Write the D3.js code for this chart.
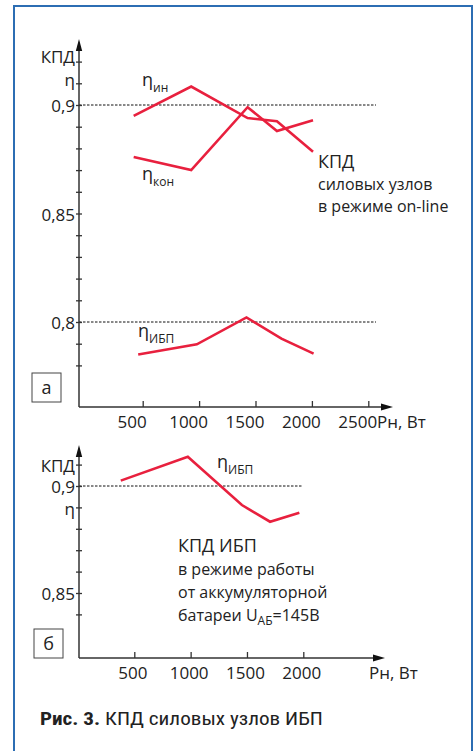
<!DOCTYPE html>
<html>
<head>
<meta charset="utf-8">
<script src="https://cdn.jsdelivr.net/npm/d3@7"></script>
<style>
  html, body { margin: 0; padding: 0; background: #fff; }
  svg { display: block; }
  text { font-family: "Open Sans", "Noto Sans", sans-serif; fill: #222; }
  .caption { font-family: "Liberation Sans Narrow", "Roboto Condensed", Roboto, sans-serif; }
</style>
</head>
<body>
<svg id="chart" width="475" height="751"></svg>
<script>
// power axis ticks, W
const powerTicksOnline = [500, 1000, 1500, 2000, 2500]
const powerTicksBattery = [500, 1000, 1500, 2000]

// efficiency ticks (every 0.01)
const etaTicksOnline = [0.78, 0.79, 0.80, 0.81, 0.82, 0.83, 0.84, 0.85, 0.86, 0.87, 0.88, 0.89, 0.90, 0.91, 0.92]
const etaTicksBattery = [0.84, 0.85, 0.86, 0.87, 0.88, 0.89, 0.90, 0.91]

// (а) on-line mode
const powerOnline = [420, 930, 1430, 1690, 2010]
const etaInverter = [0.895, 0.9085, 0.894, 0.8925, 0.8785]
const etaConverter = [0.876, 0.870, 0.899, 0.888, 0.893]
const powerUpsOnline = [460, 980, 1420, 1730, 2015]
const etaUpsOnline = [0.785, 0.7897, 0.8021, 0.7923, 0.7854]

// (б) battery mode
const powerBattery = [380, 975, 1455, 1705, 1965]
const etaUpsBattery = [0.9025, 0.9137, 0.8911, 0.8833, 0.8875]

const RED = "#e8203e"
const AXIS = "#333"

const svg = d3.select("#chart")

// blue frame
svg.append("rect")
	.attr("x", 14).attr("y", 6)
	.attr("width", 458).attr("height", 760)
	.attr("fill", "none")
	.attr("stroke", "#2c6db3")
	.attr("stroke-width", 2)

function yLabel(map) {
	return d => map[d.toFixed(2)] || ""
}

function drawPanel(cfg) {
	const g = svg.append("g")
	const x = cfg.x, y = cfg.y

	// reference dashed lines
	cfg.refLines.forEach(v => {
		g.append("line")
			.attr("x1", cfg.axisX).attr("x2", cfg.refEnd)
			.attr("y1", y(v)).attr("y2", y(v))
			.attr("stroke", "#111")
			.attr("stroke-width", 1)
			.attr("stroke-dasharray", "2.5,1.5")
	})

	// y axis
	const yAxis = d3.axisLeft(y)
		.tickValues(cfg.yTicks)
		.tickSize(3)
		.tickPadding(1)
		.tickFormat(yLabel(cfg.yLabels))
	const ya = g.append("g")
		.attr("transform", "translate(" + cfg.axisX + ",0)")
		.call(yAxis)
	ya.select(".domain").remove()
	ya.selectAll(".tick line").attr("x1", -3).attr("x2", 3).attr("stroke", AXIS).attr("stroke-width", 1.3)
	ya.selectAll(".tick text")
		.attr("font-family", null).attr("font-size", null)
		.style("font-size", "17px")
		.attr("dy", d => (cfg.yDy[d.toFixed(2)] || 0.4) + "em")

	// x axis
	const xAxis = d3.axisBottom(x)
		.tickValues(cfg.xTicks)
		.tickSize(-6)
		.tickFormat(d3.format("d"))
	const xa = g.append("g")
		.attr("transform", "translate(0," + cfg.axisY + ")")
		.call(xAxis)
	xa.select(".domain").remove()
	xa.selectAll(".tick line").attr("stroke", AXIS).attr("stroke-width", 1.3)
	xa.selectAll(".tick text")
		.attr("font-family", null).attr("font-size", null)
		.style("font-size", "17px")
		.attr("y", 21).attr("dy", 0)
		.attr("dx", cfg.xLabelDx)

	// axis lines with arrows
	g.append("line")
		.attr("x1", cfg.axisX).attr("x2", cfg.axisX)
		.attr("y1", cfg.axisY).attr("y2", cfg.yTip + 8)
		.attr("stroke", AXIS).attr("stroke-width", 1.5)
	g.append("path")
		.attr("d", "M" + cfg.axisX + "," + cfg.yTip + "L" + (cfg.axisX - 3.2) + "," + (cfg.yTip + 12) + "L" + (cfg.axisX + 3.2) + "," + (cfg.yTip + 12) + "Z")
		.attr("fill", "#111")
	g.append("line")
		.attr("x1", cfg.axisX).attr("x2", cfg.xTip - 8)
		.attr("y1", cfg.axisY).attr("y2", cfg.axisY)
		.attr("stroke", AXIS).attr("stroke-width", 1.5)
	g.append("path")
		.attr("d", "M" + cfg.xTip + "," + cfg.axisY + "L" + (cfg.xTip - 12) + "," + (cfg.axisY - 3.5) + "L" + (cfg.xTip - 12) + "," + (cfg.axisY + 3.5) + "Z")
		.attr("fill", "#111")

	g.append("text")
		.attr("x", cfg.xTip - 16).attr("y", cfg.axisY + 21)
		.style("font-size", "17px")
		.text("Рн, Вт")

	// series
	const line = d3.line().x(d => x(d[0])).y(d => y(d[1]))
	cfg.series.forEach(s => {
		g.append("path")
			.datum(d3.zip(s.power, s.eta))
			.attr("d", line)
			.attr("fill", "none")
			.attr("stroke", RED)
			.attr("stroke-width", 2.6)
			.attr("stroke-linejoin", "miter")

		const t = g.append("text")
			.attr("x", s.lx).attr("y", s.ly)
			.style("font-size", "18px")
		t.append("tspan").text("η")
		t.append("tspan")
			.attr("dy", 6)
			.style("font-size", "12px")
			.text(s.sub)
	})

	// panel letter box
	g.append("rect")
		.attr("x", cfg.box[0]).attr("y", cfg.box[1])
		.attr("width", 29).attr("height", 29)
		.attr("fill", "none")
		.attr("stroke", "#444")
		.attr("stroke-width", 1)
	g.append("text")
		.attr("x", cfg.box[0] + 14.5).attr("y", cfg.box[1] + 20.5)
		.attr("text-anchor", "middle")
		.style("font-size", "18px")
		.text(cfg.letter)

	// note
	cfg.note.forEach(n => {
		const t = g.append("text")
			.attr("x", cfg.noteX).attr("y", n.y)
			.style("font-size", n.size + "px")
		t.append("tspan").text(n.text)
		if (n.sub) {
			t.append("tspan").attr("dy", 4).style("font-size", "12px").text(n.sub)
			t.append("tspan").attr("dy", -4).text(n.after)
		}
	})
}

// panel а
const xOnline = d3.scaleLinear().domain([500, 2500]).range([142.7, 368.3])
const yOnline = d3.scaleLinear().domain([0.80, 0.90]).range([322, 105])

drawPanel({
	x: xOnline, y: yOnline,
	axisX: 79, axisY: 407, yTip: 39, xTip: 393,
	refLines: [0.90, 0.80], refEnd: 376,
	yTicks: etaTicksOnline,
	yLabels: { "0.92": "КПД", "0.91": "η", "0.90": "0,9", "0.85": "0,85", "0.80": "0,8" },
	yDy: { "0.92": 0.06, "0.91": 0.1 },
	xTicks: powerTicksOnline, xLabelDx: -11,
	series: [
		{ power: powerOnline, eta: etaInverter, sub: "ин", lx: 142, ly: 86 },
		{ power: powerOnline, eta: etaConverter, sub: "кон", lx: 142, ly: 180 },
		{ power: powerUpsOnline, eta: etaUpsOnline, sub: "ИБП", lx: 138, ly: 337 }
	],
	box: [32, 373], letter: "а",
	noteX: 318,
	note: [
		{ text: "КПД", y: 168, size: 18 },
		{ text: "силовых узлов", y: 190, size: 16 },
		{ text: "в режиме on-line", y: 212, size: 16 }
	]
})

// panel б
const xBattery = d3.scaleLinear().domain([500, 2000]).range([134.3, 303.3])
const yBattery = d3.scaleLinear().domain([0.85, 0.90]).range([593, 486])

drawPanel({
	x: xBattery, y: yBattery,
	axisX: 79, axisY: 658, yTip: 445, xTip: 385,
	refLines: [0.90], refEnd: 303,
	yTicks: etaTicksBattery,
	yLabels: { "0.91": "КПД", "0.90": "0,9", "0.89": "η", "0.85": "0,85" },
	yDy: {},
	xTicks: powerTicksBattery, xLabelDx: -2,
	series: [
		{ power: powerBattery, eta: etaUpsBattery, sub: "ИБП", lx: 217, ly: 468 }
	],
	box: [34, 629], letter: "б",
	noteX: 178,
	note: [
		{ text: "КПД ИБП", y: 552, size: 18 },
		{ text: "в режиме работы", y: 575, size: 16 },
		{ text: "от аккумуляторной", y: 598, size: 16 },
		{ text: "батареи U", sub: "АБ", after: "=145В", y: 621, size: 16 }
	]
})

// caption
const cap = svg.append("text")
	.attr("class", "caption")
	.attr("x", 40).attr("y", 725)
	.attr("textLength", 283)
	.attr("lengthAdjust", "spacingAndGlyphs")
	.style("font-size", "18px")
cap.append("tspan").attr("font-weight", "bold").text("Рис. 3.")
cap.append("tspan").text(" КПД силовых узлов ИБП")
</script>
</body>
</html>
